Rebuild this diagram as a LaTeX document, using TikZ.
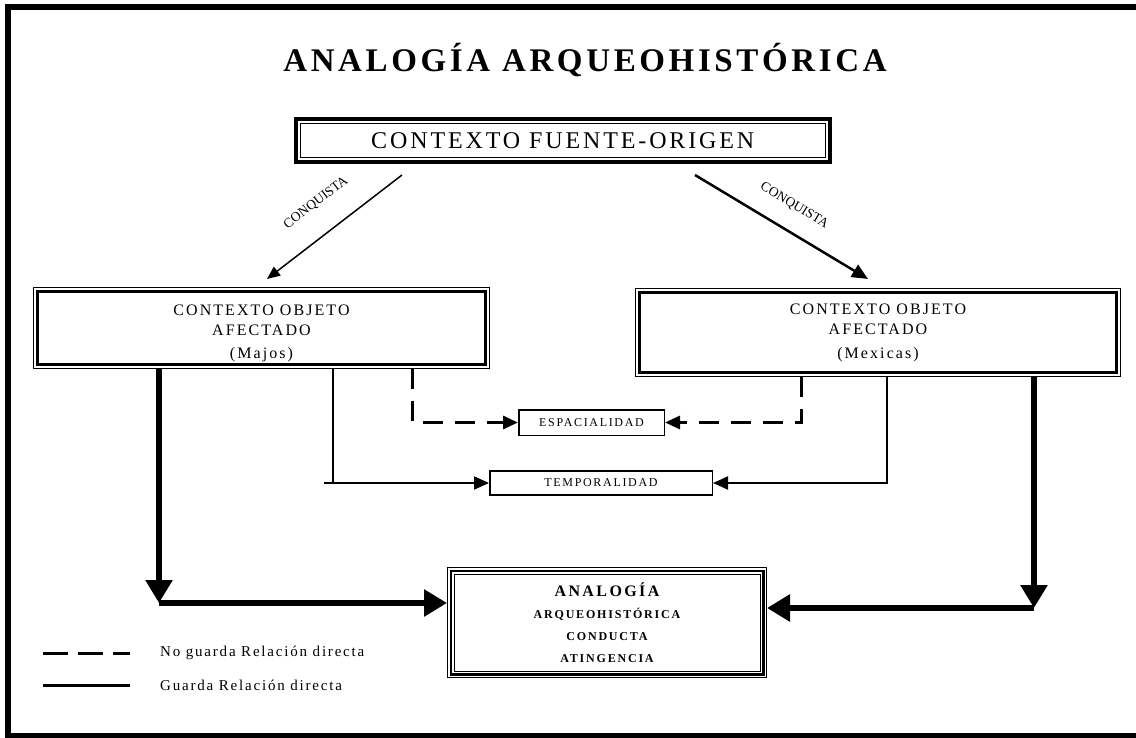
\documentclass[tikz,border=0pt]{standalone}
\usepackage{fontspec}
\setmainfont{Liberation Serif}
\usetikzlibrary{arrows.meta}
\newcommand\letra[3]{\fontsize{#1}{#2}\selectfont\addfontfeatures{LetterSpace=#3}}
\begin{document}
\begin{tikzpicture}[x=1pt,y=-1pt,line join=miter,
	titulo/.style={anchor=base,inner sep=0pt,font=\bfseries\letra{33}{40}{11}},
	fuente/.style={draw,line width=4pt,inner sep=0pt,minimum width=534pt,minimum height=43pt,font=\letra{24}{28}{12},
		path picture={\draw[line width=1pt] ([shift={(4.5pt,-4.5pt)}]path picture bounding box.north west) rectangle ([shift={(-4.5pt,4.5pt)}]path picture bounding box.south east);}},
	afectado/.style={draw,line width=1pt,inner sep=0pt,align=center,font=\letra{16}{20}{13},
		path picture={\draw[line width=3pt] ([shift={(4pt,-4pt)}]path picture bounding box.north west) rectangle ([shift={(-4pt,4pt)}]path picture bounding box.south east);}},
	analogia/.style={draw,line width=1pt,inner sep=0pt,align=center,font=\bfseries\letra{12}{22}{15},
		path picture={\draw[line width=2.5pt] ([shift={(3.25pt,-3.25pt)}]path picture bounding box.north west) rectangle ([shift={(-3.25pt,3.25pt)}]path picture bounding box.south east);
			\draw[line width=1pt] ([shift={(6.5pt,-6.5pt)}]path picture bounding box.north west) rectangle ([shift={(-6.5pt,6.5pt)}]path picture bounding box.south east);}},
	chica/.style={draw,line width=1.5pt,inner sep=0pt,font=\letra{12}{14}{14}},
	conquista/.style={sloped,inner sep=0pt,font=\fontsize{13.5}{15}\selectfont},
	leyenda/.style={anchor=west,inner sep=0pt,font=\letra{15}{18}{12}},
	flechaA/.style={line width=1.5pt,-{Triangle[length=13pt,width=11pt]}},
	flechaB/.style={line width=2.5pt,-{Triangle[length=16pt,width=14pt]}},
	guarda/.style={line width=2pt,-{Triangle[length=15pt,width=13pt]}},
	noguarda/.style={line width=3pt,dash pattern=on 20pt off 12pt,-{Triangle[length=15pt,width=13pt]}},
	gruesa/.style={line width=6pt,-{Triangle[length=23pt,width=26pt]}}]
	\useasboundingbox (0,0) rectangle (1136,738);
	\draw[line width=6pt] (1140,7)--(8,7)--(8,736)--(1140,736);
	\node[titulo] (titulo) at (585,72) {ANALOGÍA ARQUEOHISTÓRICA};
	\node[fuente] (fuente) at (562.8,140.5) {CONTEXTO FUENTE-ORIGEN};
	\node[afectado,minimum width=456pt,minimum height=81pt] (majos) at (261.5,328) {\rule{0pt}{21pt}CONTEXTO OBJETO\\AFECTADO\\[3pt](Majos)};
	\node[afectado,minimum width=485pt,minimum height=88pt] (mexicas) at (878,332.5) {CONTEXTO OBJETO\\AFECTADO\\[4pt](Mexicas)};
	\node[chica,minimum width=145.5pt,minimum height=25.5pt] (esp) at (591.5,422.5) {ESPACIALIDAD};
	\node[chica,minimum width=222.5pt,minimum height=24pt] (temp) at (601,483) {TEMPORALIDAD};
	\node[analogia,minimum width=319pt,minimum height=110pt] (analog) at (607,622.5) {{\fontsize{16}{22}\selectfont ANALOGÍA}\\ARQUEOHISTÓRICA\\CONDUCTA\\ATINGENCIA};
	\node[leyenda] (ley1) at (160,653) {No guarda Relación directa};
	\node[leyenda] (ley2) at (160,685) {Guarda Relación directa};
	\coordinate (q1) at (402,175);
	\coordinate (q1f) at (267,279);
	\coordinate (q2) at (695,175);
	\coordinate (q2f) at (868,279);
	\draw[flechaA] (q1)--node[conquista,above=24pt] (lq1) {CONQUISTA} (q1f);
	\draw[flechaB] (q2)--node[conquista,above=18pt] (lq2) {CONQUISTA} (q2f);
	\coordinate (ei) at (412,422.5);
	\coordinate (ed) at (801,422.5);
	\draw[noguarda] (majos.south -| ei) |- (esp.west);
	\draw[noguarda] (mexicas.south -| ed) |- (esp.east);
	\coordinate (ti) at (333,483);
	\coordinate (tstub) at (324,483);
	\coordinate (td) at (887,483);
	\draw[line width=2pt] (majos.south -| ti)--(ti);
	\draw[guarda] (tstub)--(temp.west);
	\draw[guarda] (mexicas.south -| td) |- (temp.east);
	\coordinate (mi) at (159,603);
	\coordinate (md) at (1034,608);
	\draw[gruesa] (majos.south -| mi)--(mi);
	\draw[gruesa] (mi)--(mi -| analog.west);
	\draw[gruesa] (mexicas.south -| md)--(md);
	\draw[gruesa] (md)--(md -| analog.east);
	\draw[line width=3pt,dash pattern=on 25pt off 10pt] (43,653)--(130,653);
	\draw[line width=3pt] (43,685)--(130,685);
\end{tikzpicture}
\end{document}
